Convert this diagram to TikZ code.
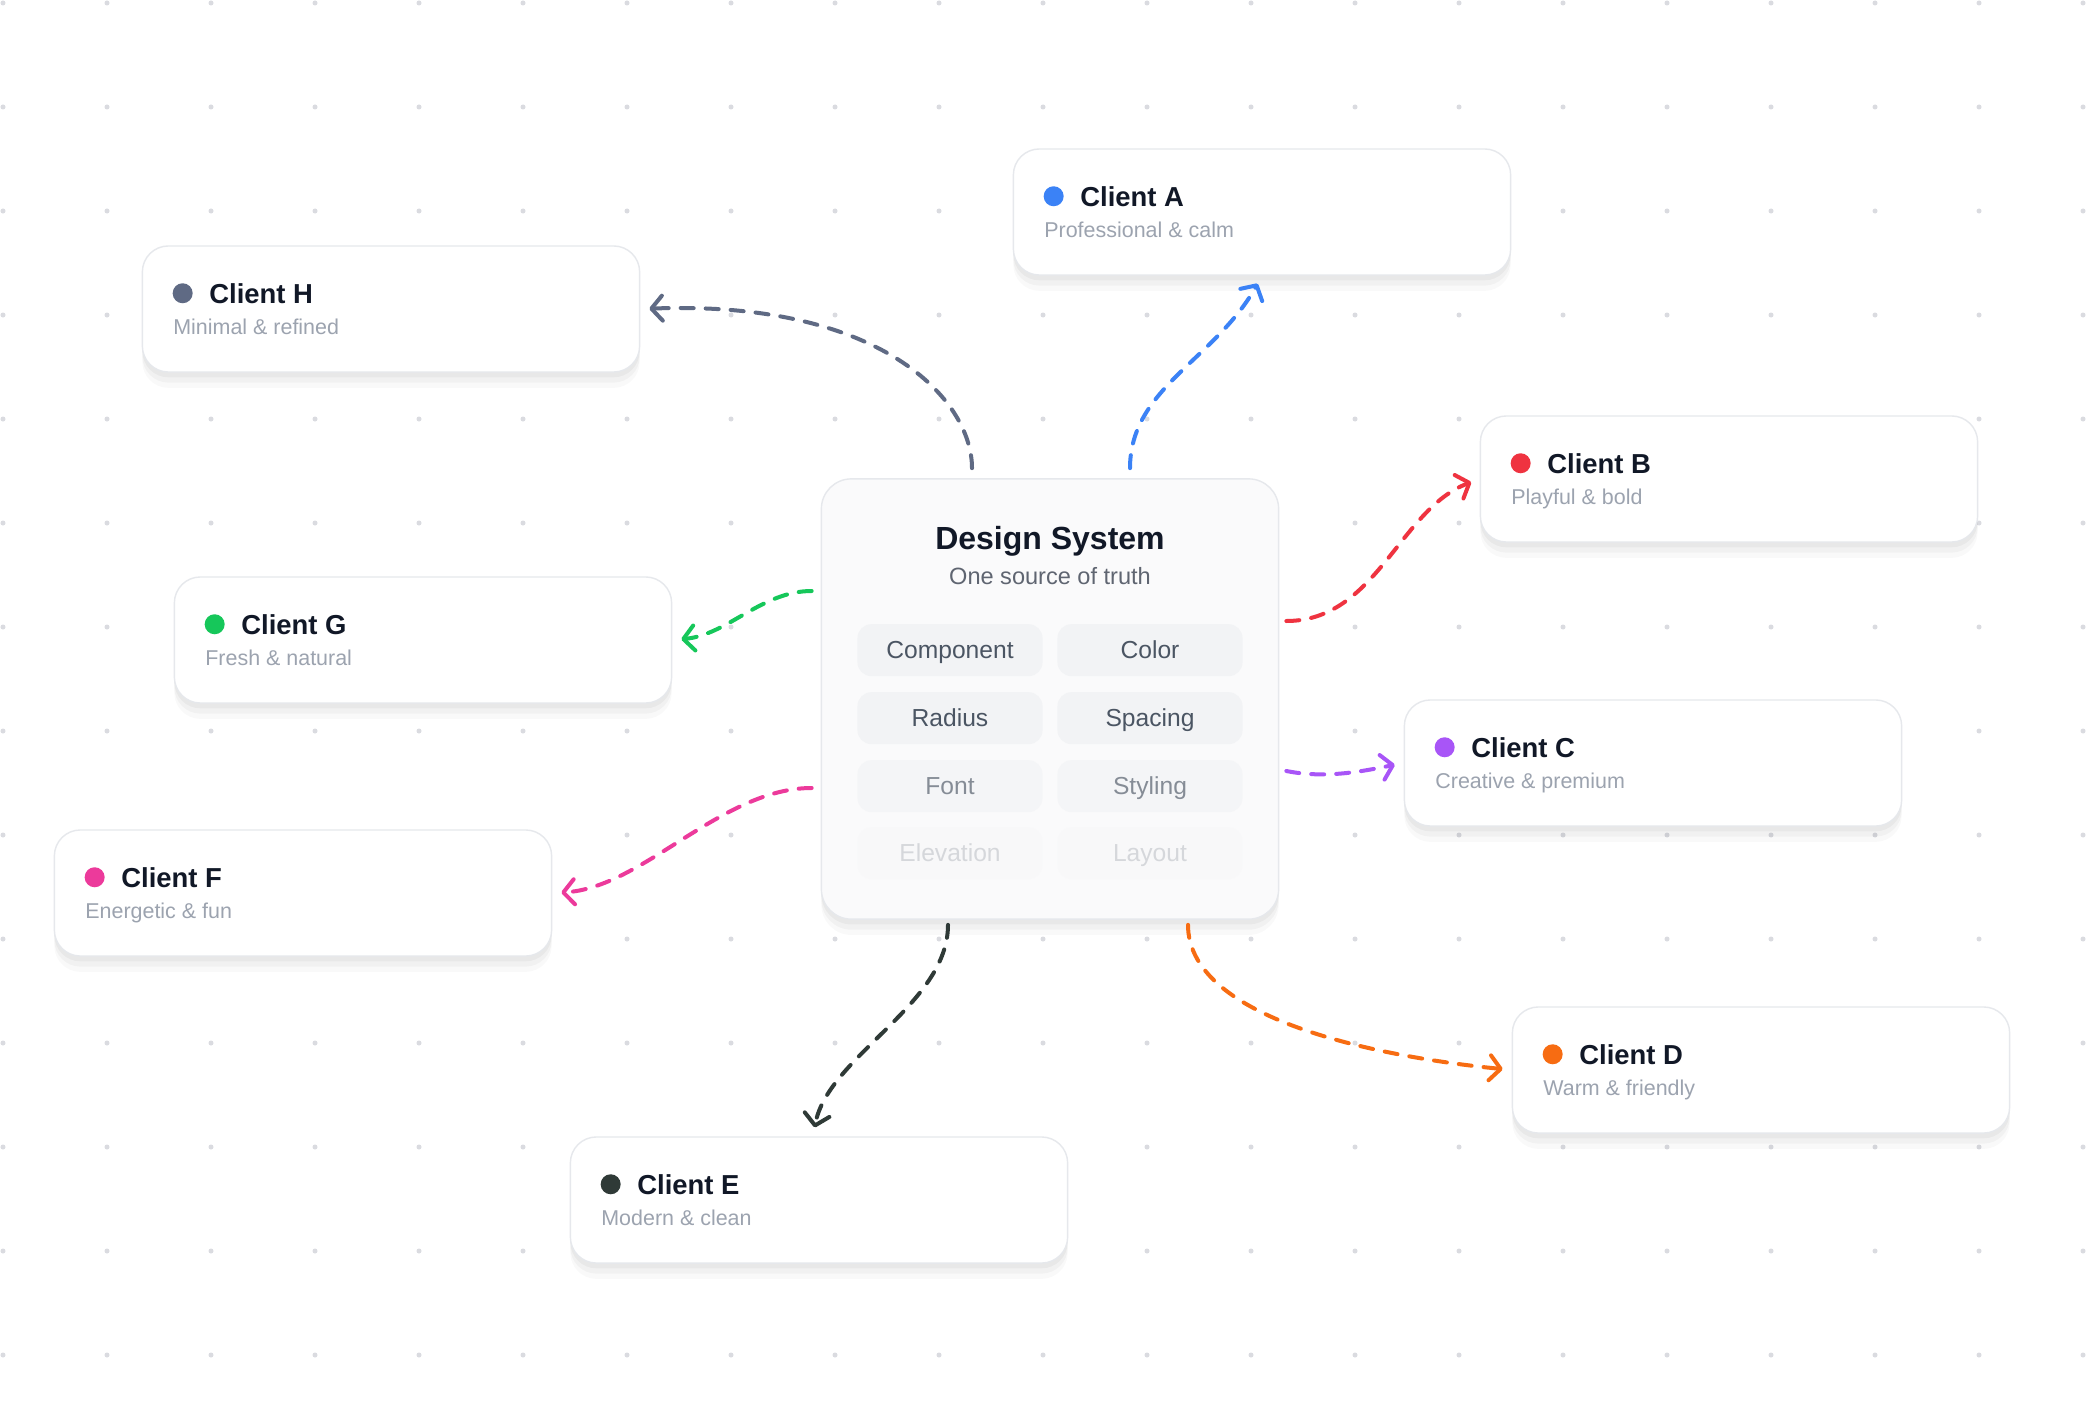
\documentclass[tikz,border=0pt]{standalone}
\usepackage{fontspec}
\setmainfont{Liberation Sans}
\usetikzlibrary{arrows.meta,positioning,calc}

\definecolor{clientA}{HTML}{3B82F6}
\definecolor{clientB}{HTML}{EF3340}
\definecolor{clientC}{HTML}{A855F7}
\definecolor{clientD}{HTML}{F76C12}
\definecolor{clientE}{HTML}{2F3A37}
\definecolor{clientF}{HTML}{EC3A9B}
\definecolor{clientG}{HTML}{16C75A}
\definecolor{clientH}{HTML}{5F6A84}
\definecolor{ink}{HTML}{111827}
\definecolor{muted}{HTML}{9CA3AF}
\definecolor{hubsub}{HTML}{5F6571}
\definecolor{chiptext}{HTML}{4B5563}
\definecolor{chipfill}{HTML}{F2F3F5}
\definecolor{hubfill}{HTML}{FAFAFB}
\definecolor{cardline}{HTML}{E6E8EC}
\definecolor{griddot}{HTML}{DADBE0}

\newcommand{\clientcard}[5]{% name, centre, colour, title, subtitle
  \node[card] (#1) at (#2) {};
  \node[clientdot, fill=#3] (#1dot) at ($(#1.north west)+(41,48)$) {};
  \node[clienttitle] (#1title) at ($(#1.north west)+(67,58)$) {#4};
  \node[clientsub] (#1sub) at ($(#1.north west)+(31,89)$) {#5};
}

\tikzset{
  softshadow/.style={
    preaction={fill=black, fill opacity=0.025, transform canvas={yshift=-4.5pt}},
    preaction={fill=black, fill opacity=0.03, transform canvas={yshift=-3pt}},
    preaction={fill=black, fill opacity=0.035, transform canvas={yshift=-1.5pt}}
  },
  card/.style={
    rectangle,
    rounded corners=0.26cm,
    draw=cardline,
    fill=white,
    minimum width=4.97cm,
    minimum height=1.26cm,
    softshadow
  },
  hub/.style={
    card,
    rounded corners=0.3cm,
    fill=hubfill,
    minimum width=4.57cm,
    minimum height=4.4cm
  },
  clientdot/.style={
    circle,
    inner sep=0pt,
    minimum size=0.2cm
  },
  clienttitle/.style={
    anchor=base west,
    inner sep=0pt,
    text=ink,
    font=\fontsize{7.8}{9}\selectfont\bfseries
  },
  clientsub/.style={
    anchor=base west,
    inner sep=0pt,
    text=muted,
    font=\fontsize{6.1}{7}\selectfont
  },
  hubtitle/.style={
    anchor=base,
    inner sep=0pt,
    text=ink,
    font=\fontsize{9.1}{11}\selectfont\bfseries
  },
  hubsubtitle/.style={
    anchor=base,
    inner sep=0pt,
    text=hubsub,
    font=\fontsize{6.7}{8}\selectfont
  },
  chip/.style={
    rectangle,
    rounded corners=0.14cm,
    fill=chipfill,
    text=chiptext,
    minimum width=1.85cm,
    minimum height=0.52cm,
    inner sep=0pt,
    text height=5pt,
    text depth=0pt,
    font=\fontsize{7}{8}\selectfont
  },
  link/.style={
    draw=#1,
    line width=0.04cm,
    line cap=round,
    dash pattern=on 0.13cm off 0.12cm,
    -{Straight Barb[length=0.11cm,width=0.25cm,round]},
    shorten >=0.09cm
  }
}

\begin{document}
\begin{tikzpicture}[x=0.01cm, y=-0.01cm]
  % page and dot grid
  \fill[white] (0,0) rectangle (2100,1400);
  \useasboundingbox (0,0) rectangle (2100,1400);
  \foreach \i in {0,...,20}
    \foreach \j in {0,...,13}
      \fill[griddot] (3+104*\i,3+104*\j) circle (0.025cm);

  % the hub
  \node[hub] (ds) at (1050,699) {};
  \node[hubtitle] (dstitle) at ($(ds.north)+(0,71)$) {Design System};
  \node[hubsubtitle] (dssub) at ($(ds.north)+(0,106)$) {One source of truth};

  \node[chip] (component) at ($(ds.north)+(-100,172)$) {Component};
  \node[chip] (color) at ($(ds.north)+(100,172)$) {Color};
  \node[chip] (radius) at ($(ds.north)+(-100,240)$) {Radius};
  \node[chip] (spacing) at ($(ds.north)+(100,240)$) {Spacing};
  \node[chip, opacity=0.65] (font) at ($(ds.north)+(-100,308)$) {Font};
  \node[chip, opacity=0.65] (styling) at ($(ds.north)+(100,308)$) {Styling};
  \node[chip, opacity=0.2] (elevation) at ($(ds.north)+(-100,375)$) {Elevation};
  \node[chip, opacity=0.2] (layout) at ($(ds.north)+(100,375)$) {Layout};

  % clients
  \clientcard{cA}{1262,212}{clientA}{Client A}{Professional \& calm}
  \clientcard{cB}{1729,479}{clientB}{Client B}{Playful \& bold}
  \clientcard{cC}{1653,763}{clientC}{Client C}{Creative \& premium}
  \clientcard{cD}{1761,1070}{clientD}{Client D}{Warm \& friendly}
  \clientcard{cE}{819,1200}{clientE}{Client E}{Modern \& clean}
  \clientcard{cF}{303,893}{clientF}{Client F}{Energetic \& fun}
  \clientcard{cG}{423,640}{clientG}{Client G}{Fresh \& natural}
  \clientcard{cH}{391,309}{clientH}{Client H}{Minimal \& refined}

  % links
  \draw[link=clientA] ($(ds.north)+(80,-10)$) .. controls +(0,-80) and +(-47,84) .. (cA.south);
  \draw[link=clientH] ($(ds.north)+(-78,-10)$) .. controls +(0,-69) and +(240,-9) .. (cH.east);
  \draw[link=clientB] ($(ds.east)+(7,-78)$) .. controls +(90,0) and +(-80,30) .. (cB.west);
  \draw[link=clientG] ($(ds.west)+(-9,-108)$) .. controls +(-50,0) and +(55,-5) .. (cG.east);
  \draw[link=clientC] ($(ds.east)+(7,72)$) .. controls +(40,8) and +(-40,8) .. (cC.west);
  \draw[link=clientF] ($(ds.west)+(-9,89)$) .. controls +(-90,0) and +(90,-5) .. (cF.east);
  \draw[link=clientD] ($(ds.south)+(138,5)$) .. controls +(0,90) and +(-150,-15) .. (cD.west);
  \draw[link=clientE] ($(ds.south)+(-102,5)$) .. controls +(0,80) and +(15,-80) .. ($(cE.north)+(-6,0)$);
\end{tikzpicture}
\end{document}
